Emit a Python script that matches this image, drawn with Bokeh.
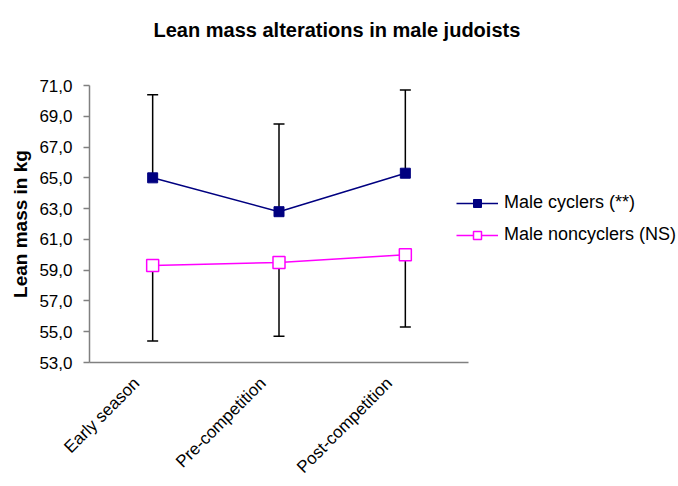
import math
from bokeh.plotting import figure
from bokeh.models import (ColumnDataSource, Range1d, FixedTicker, CustomJSTickFormatter,
                          Whisker, TeeHead, Legend, LegendItem, LinearAxis, LinearScale, Title)
from bokeh.embed import file_html
from bokeh.resources import INLINE

# ---- data ----
categories = ["Early season", "Pre-competition", "Post-competition"]
cyclers = [65.0, 62.8, 65.3]
cyclers_upper = [70.4, 68.5, 70.7]
noncyclers = [59.3, 59.5, 60.0]
noncyclers_lower = [54.4, 54.7, 55.3]
y_ticks = [53, 55, 57, 59, 61, 63, 65, 67, 69, 71]
title_text = "Lean mass alterations in male judoists"
y_label = "Lean mass in kg"
series_names = ["Male cyclers (**)", "Male noncyclers (NS)"]

FONT = "Liberation Sans"
NAVY = "#000080"
MAGENTA = "#FF00FF"
AXIS_GRAY = "#808080"

W, H = 678, 486
LEFT, TOP, BOTTOM = 89, 85, 123
AXIS_PX = 379            # drawn length of the category axis
n = len(categories)
xpos = [i + 0.5 for i in range(n)]  # category centres on a 0..n scale
frame_w = W - LEFT
x_end = n * frame_w / AXIS_PX       # frame continues to the right to hold the legend

p = figure(width=W, height=H, x_range=Range1d(0, x_end), title=None,
           y_range=Range1d(53, 71), output_backend="svg", toolbar_location=None,
           x_axis_location=None,
           min_border_left=LEFT, min_border_right=0, min_border_top=TOP, min_border_bottom=BOTTOM)
p.outline_line_color = None
p.xgrid.grid_line_color = None
p.ygrid.grid_line_color = None
p.background_fill_color = "white"
p.border_fill_color = "white"

# title (a blank spacer title sits between the frame and the real title)
p.add_layout(Title(text=" ", standoff=21, text_font=FONT, text_font_size="20px"), "above")
p.add_layout(Title(text=title_text, align="left", offset=64, standoff=0,
                   text_font=FONT, text_font_size="20px", text_font_style="bold",
                   text_color="black"), "above")

# y axis
yax = p.yaxis[0]
yax.ticker = FixedTicker(ticks=y_ticks)
yax.formatter = CustomJSTickFormatter(code="return tick.toFixed(1).replace('.', ',')")
yax.axis_line_color = AXIS_GRAY
yax.axis_line_width = 1.5
yax.major_tick_line_color = AXIS_GRAY
yax.major_tick_line_width = 1.5
yax.major_tick_out = 6
yax.major_tick_in = 0
yax.minor_tick_line_color = None
yax.major_label_standoff = 11
yax.major_label_text_font = FONT
yax.major_label_text_font_size = "17px"
yax.major_label_text_color = "black"
yax.axis_label = y_label
yax.axis_label_text_font = FONT
yax.axis_label_text_font_style = "bold"
yax.axis_label_text_font_size = "19px"
yax.axis_label_text_color = "black"
yax.axis_label_standoff = 5

# x axis: category labels placed like the reference (ending left of each category centre)
shift = 16.0 / AXIS_PX * n
p.extra_x_ranges = {"lab": Range1d(start=shift, end=x_end + shift)}
p.extra_x_scales = {"lab": LinearScale()}
xax = LinearAxis(x_range_name="lab", bounds=(shift, n + shift),
                 ticker=FixedTicker(ticks=xpos),
                 formatter=CustomJSTickFormatter(args=dict(labels=categories),
                                                 code="return labels[Math.floor(tick)]"))
xax.axis_line_color = AXIS_GRAY
xax.axis_line_width = 1.5
xax.major_tick_line_color = None
xax.minor_tick_line_color = None
xax.major_tick_out = 0
xax.major_tick_in = 0
xax.major_label_orientation = math.pi / 4
xax.major_label_standoff = 18
xax.major_label_text_font = FONT
xax.major_label_text_font_size = "17px"
xax.major_label_text_color = "black"
p.add_layout(xax, "below")

src = ColumnDataSource(dict(x=xpos, cyc=cyclers, cyc_up=cyclers_upper,
                            non=noncyclers, non_lo=noncyclers_lower))

# error bars
w1 = Whisker(source=src, base="x", lower="cyc", upper="cyc_up", dimension="height",
             line_color="black", line_width=1.5, level="underlay",
             upper_head=TeeHead(size=11, line_color="black", line_width=1.5), lower_head=None)
w2 = Whisker(source=src, base="x", lower="non_lo", upper="non", dimension="height",
             line_color="black", line_width=1.5, level="underlay",
             lower_head=TeeHead(size=11, line_color="black", line_width=1.5), upper_head=None)
p.add_layout(w1)
p.add_layout(w2)

l1 = p.line("x", "cyc", source=src, line_color=NAVY, line_width=1.5)
m1 = p.scatter("x", "cyc", source=src, marker="square", size=10, fill_color=NAVY, line_color=NAVY)
l2 = p.line("x", "non", source=src, line_color=MAGENTA, line_width=1.5)
m2 = p.scatter("x", "non", source=src, marker="square", size=12, fill_color="white",
               line_color=MAGENTA, line_width=1.5)

legend = Legend(items=[LegendItem(label=series_names[0], renderers=[l1, m1]),
                       LegendItem(label=series_names[1], renderers=[l2, m2])],
                location=(367, 117), padding=0, margin=0, spacing=11,
                glyph_width=42, glyph_height=20, label_height=20, label_standoff=6,
                label_text_font=FONT, label_text_font_size="18px", label_text_color="black",
                border_line_color=None, background_fill_alpha=0)
p.add_layout(legend, "center")

open("out.html", "w").write(file_html(p, INLINE))
